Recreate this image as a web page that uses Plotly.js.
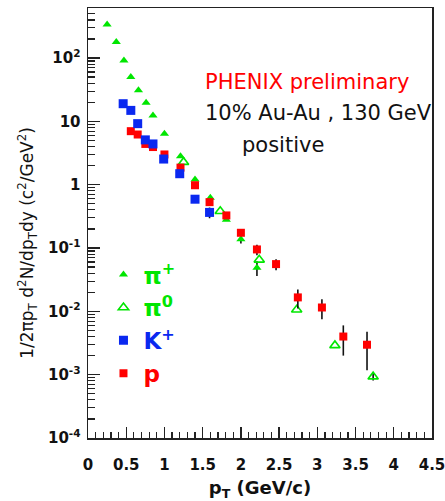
<!DOCTYPE html>
<html>
<head>
<meta charset="utf-8">
<script src="https://cdn.plot.ly/plotly-3.0.1.min.js"></script>
<style>
  html, body { margin: 0; padding: 0; background: #fff; }
  #chart { width: 445px; height: 501px; }
</style>
</head>
<body>
<div id="chart"></div>
<script>
// Invariant yields, 10% central Au-Au at 130 GeV, positive particles
const piPlusPt  = [0.25, 0.37, 0.47, 0.56, 0.66, 0.76, 0.85, 1.00, 1.21, 1.40, 1.60, 1.81, 2.00, 2.21];
const piPlusY   = [337, 179, 91, 50, 31, 19.7, 12.4, 6.4, 2.8, 1.21, 0.62, 0.28, 0.138, 0.049];
const piPlusErr = [0, 0, 0, 0, 0, 0, 0, 0, 0, 0, 0, 0, 0.02, 0.013];

const piZeroPt  = [1.25, 1.73, 2.24, 2.73, 3.23, 3.73];
const piZeroY   = [2.27, 0.38, 0.065, 0.0106, 0.0029, 0.00093];
const piZeroErr = [0, 0, 0, 0, 0, 0.00012];

const kPlusPt   = [0.46, 0.56, 0.65, 0.75, 0.85, 0.99, 1.20, 1.40, 1.59];
const kPlusY    = [19, 14.9, 9.2, 5.1, 4.4, 2.54, 1.49, 0.59, 0.365];
const kPlusErr  = [0, 0, 0, 0, 0, 0, 0, 0, 0.07];

const protonPt  = [0.56, 0.65, 0.75, 0.85, 1.00, 1.21, 1.40, 1.59, 1.81, 2.00, 2.21, 2.46, 2.745, 3.06, 3.34, 3.65];
const protonY   = [7.0, 6.2, 4.4, 3.93, 3.0, 1.86, 0.98, 0.53, 0.327, 0.174, 0.095, 0.0557, 0.0166, 0.0115, 0.0040, 0.00297];
const protonErr = [0, 0, 0, 0, 0, 0, 0, 0, 0, 0.015, 0.018, 0.011, 0.0055, 0.004, 0.002, 0.0018];

const xTickVals = [0, 0.5, 1, 1.5, 2, 2.5, 3, 3.5, 4, 4.5];
const xTickText = ['0', '0.5', '1', '1.5', '2', '2.5', '3', '3.5', '4', '4.5'];
const yTickVals = [1e-4, 1e-3, 1e-2, 1e-1, 1, 10, 100];
const yTickText = ['10<sup>-4</sup>', '10<sup>-3</sup>', '10<sup>-2</sup>', '10<sup>-1</sup>', '1', '10', '10<sup>2</sup>'];

const GREEN = '#00e600';
const BLUE = '#0a28f0';
const RED = '#ff0000';

// minor ticks at 2..9 of every decade
const yMinor = [];
for (let e = -4; e <= 2; e++) {
  for (let m = 2; m <= 9; m++) yMinor.push(m * Math.pow(10, e));
}

function errY(arr) {
  return { type: 'data', array: arr, visible: true, color: '#111', thickness: 1.6, width: 0 };
}

const traces = [
  {
    x: piPlusPt, y: piPlusY, error_y: errY(piPlusErr),
    type: 'scatter', mode: 'markers', legendrank: 1,
    name: '<span style="color:' + GREEN + '">π<sup>+</sup></span>',
    marker: { symbol: 'triangle-up', size: 8, color: GREEN }
  },
  {
    x: piZeroPt, y: piZeroY, error_y: errY(piZeroErr),
    type: 'scatter', mode: 'markers', legendrank: 2,
    name: '<span style="color:' + GREEN + '">π<sup>0</sup></span>',
    marker: { symbol: 'triangle-up-open', size: 9, color: GREEN, line: { width: 1.6, color: GREEN } }
  },
  {
    x: protonPt, y: protonY, error_y: errY(protonErr),
    type: 'scatter', mode: 'markers', legendrank: 4,
    name: '<span style="color:' + RED + '">p</span>',
    marker: { symbol: 'square', size: 8, color: RED }
  },
  {
    x: kPlusPt, y: kPlusY, error_y: errY(kPlusErr),
    type: 'scatter', mode: 'markers', legendrank: 3,
    name: '<span style="color:' + BLUE + '">K<sup>+</sup></span>',
    marker: { symbol: 'square', size: 9, color: BLUE }
  }
];

const tickFont = { family: 'DejaVu Sans', size: 15, color: '#111', weight: 'bold' };
const textFont = { family: 'DejaVu Sans', size: 21, color: '#111' };

const layout = {
  width: 445, height: 501,
  margin: { l: 88, r: 13, t: 8, b: 63 },
  paper_bgcolor: '#fff', plot_bgcolor: '#fff',
  showlegend: true,
  legend: {
    x: 0.045, y: 0.43, xanchor: 'left', yanchor: 'top',
    bgcolor: 'rgba(0,0,0,0)', borderwidth: 0,
    font: { family: 'DejaVu Sans', size: 23, weight: 'bold' },
    itemclick: false, tracegroupgap: 0
  },
  xaxis: {
    range: [0, 4.5], showgrid: false, zeroline: false,
    showline: true, linecolor: '#222', linewidth: 1.5, mirror: true,
    ticks: 'inside', tickmode: 'array', tickvals: xTickVals, ticktext: xTickText,
    ticklen: 11, tickwidth: 1.3, tickcolor: '#222',
    ticklabelstandoff: 12, ticklabeloverflow: 'allow',
    minor: { ticks: 'inside', tick0: 0, dtick: 0.1, ticklen: 6, tickwidth: 1.2, tickcolor: '#222' },
    tickfont: tickFont,
    title: { text: '<b>p<sub>T</sub> (GeV/c)</b>', font: { family: 'DejaVu Sans', size: 18, color: '#111' }, standoff: 10 }
  },
  yaxis: {
    type: 'log', range: [-4, 2.79], showgrid: false, zeroline: false,
    showline: true, linecolor: '#222', linewidth: 1.5, mirror: true,
    ticks: 'inside', tickmode: 'array', tickvals: yTickVals, ticktext: yTickText,
    ticklen: 12, tickwidth: 1.3, tickcolor: '#222',
    ticklabelstandoff: 3,
    minor: { ticks: 'inside', tickmode: 'array', tickvals: yMinor, ticklen: 7, tickwidth: 1.2, tickcolor: '#222' },
    tickfont: tickFont
  },
  annotations: [
    {
      text: '1/2πp<sub>T</sub> d<sup>2</sup>N/dp<sub>T</sub>dy (c<sup>2</sup>/GeV<sup>2</sup>)',
      xref: 'paper', yref: 'paper', x: -0.175, y: 0.4535,
      xanchor: 'center', yanchor: 'middle', textangle: -90, showarrow: false,
      font: { family: 'DejaVu Sans', size: 17, color: '#111' }
    },
    {
      text: 'PHENIX preliminary', xref: 'paper', yref: 'paper', x: 0.334, y: 0.828,
      xanchor: 'left', yanchor: 'middle', showarrow: false,
      font: { family: 'DejaVu Sans', size: 21, color: RED }
    },
    {
      text: '10% Au-Au , 130 GeV', xref: 'paper', yref: 'paper', x: 0.334, y: 0.756,
      xanchor: 'left', yanchor: 'middle', showarrow: false, font: textFont
    },
    {
      text: 'positive', xref: 'paper', yref: 'paper', x: 0.442, y: 0.681,
      xanchor: 'left', yanchor: 'middle', showarrow: false, font: textFont
    }
  ]
};

Plotly.newPlot('chart', traces, layout, { displayModeBar: false, staticPlot: true });
</script>
</body>
</html>
